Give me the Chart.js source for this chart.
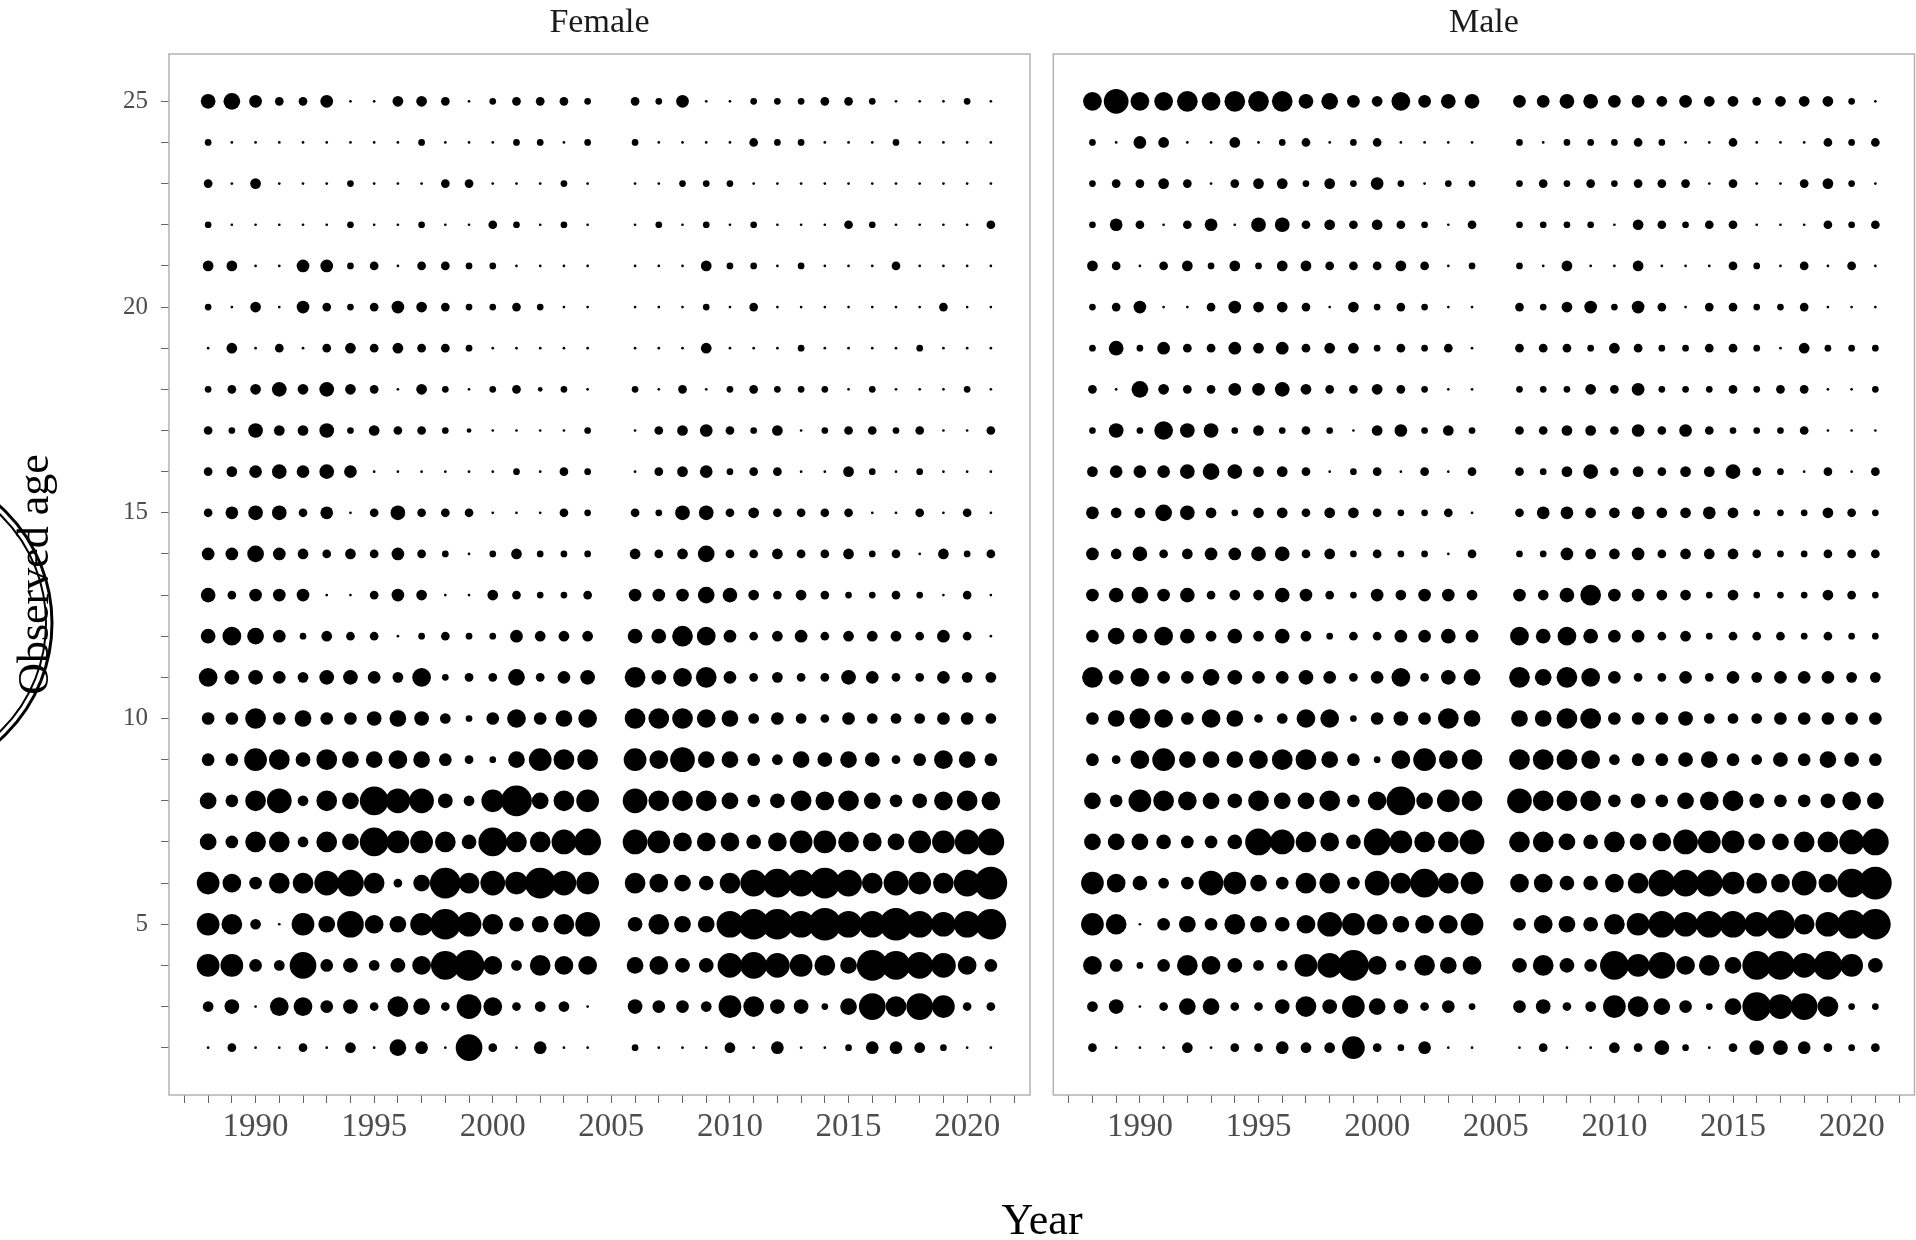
<!DOCTYPE html>
<html>
<head>
<meta charset="utf-8">
<script src="https://cdn.jsdelivr.net/npm/chart.js"></script>
<style>
  body { margin: 0; background: #fff; width: 1916px; height: 1240px; overflow: hidden; position: relative; font-family: "Liberation Serif", serif; }
  .wrap { position: absolute; top: 0; height: 1240px; }
  #fwrap { left: 0; width: 1042px; }
  #mwrap { left: 1042px; width: 874px; }
  #xtitle { position: absolute; left: 0; width: 2084px; top: 1192px; text-align: center; font-size: 44px; line-height: 56px; color: #000; }
</style>
</head>
<body>
<div class="wrap" id="fwrap"><canvas id="female"></canvas></div>
<div class="wrap" id="mwrap"><canvas id="male"></canvas></div>
<div id="xtitle">Year</div>

<script>
// years sampled (no 2005 survey) and ages, top row = age 25
const years = [1988,1989,1990,1991,1992,1993,1994,1995,1996,1997,1998,1999,2000,2001,2002,2003,2004,
               2006,2007,2008,2009,2010,2011,2012,2013,2014,2015,2016,2017,2018,2019,2020,2021];
const ages = [25,24,23,22,21,20,19,18,17,16,15,14,13,12,11,10,9,8,7,6,5,4,3,2];
const xLabelYears = [1990,1995,2000,2005,2010,2015,2020];
const yLabelAges = [5,10,15,20,25];

// Female, relative numbers at age (bubble area)
const f25 = [49,64,36,16,16,36,1,1,25,25,16,1,9,16,16,16,9, 16,9,36,1,1,9,9,9,16,16,9,1,1,1,9,1];
const f24 = [9,1,1,1,1,1,1,1,1,9,1,1,1,9,9,1,9, 9,1,1,1,1,16,9,9,1,1,1,9,1,1,1,1];
const f23 = [16,1,25,1,1,1,9,1,1,1,16,16,1,1,1,9,1, 1,1,9,9,9,1,1,1,1,1,1,1,1,1,1,1];
const f22 = [9,1,1,1,1,1,9,1,1,9,1,1,16,9,1,9,1, 1,9,1,9,1,9,1,1,1,16,9,1,1,1,1,16];
const f21 = [25,25,1,1,36,36,9,16,1,16,16,9,9,1,1,1,1, 1,1,1,25,9,9,1,9,1,1,1,16,1,1,1,1];
const f20 = [9,1,25,1,36,16,9,16,36,25,16,9,9,16,9,1,1, 1,1,1,9,1,16,1,1,1,1,1,1,1,16,1,1];
const f19 = [1,25,1,16,1,16,25,16,25,16,16,9,1,1,1,1,1, 1,1,1,25,1,1,1,9,1,1,1,1,9,1,1,1];
const f18 = [9,16,25,49,25,49,25,16,1,25,9,1,9,16,4,9,1, 9,1,16,1,9,16,9,9,9,1,9,1,1,1,9,1];
const f17 = [16,9,49,25,25,49,9,25,16,16,9,4,1,1,1,1,9, 1,16,25,36,16,9,25,1,9,16,16,9,16,1,1,16];
const f16 = [16,25,36,49,36,49,36,1,1,1,1,1,1,9,1,16,9, 1,16,25,36,9,16,16,1,1,25,9,1,9,1,1,1];
const f15 = [16,36,49,49,16,36,1,16,49,16,16,16,1,1,1,16,9, 16,9,49,49,16,25,16,16,16,16,1,1,16,1,16,1];
const f14 = [36,36,64,36,25,16,25,16,36,16,9,1,9,25,9,9,9, 25,16,25,64,16,16,25,16,16,25,9,16,1,25,9,16];
const f13 = [49,16,36,36,36,1,1,16,36,25,1,1,25,16,9,9,16, 36,36,36,64,49,25,16,25,16,9,9,16,9,1,16,1];
const f12 = [49,81,64,36,9,25,16,16,1,9,16,9,9,36,25,25,25, 49,49,100,81,36,16,25,36,16,25,25,25,16,36,16,1];
const f11 = [81,49,49,36,25,49,49,36,25,81,9,16,16,64,16,36,49, 100,49,81,100,36,16,25,16,16,49,36,16,16,36,25,25];
const f10 = [36,36,100,36,64,36,36,49,64,49,25,9,36,81,36,64,81, 100,100,100,81,64,25,36,25,16,36,25,25,25,36,36,25];
const f9  = [36,36,121,100,49,100,64,64,81,64,36,16,9,64,121,100,100, 121,81,144,64,64,36,25,64,49,64,49,16,36,81,64,36];
const f8  = [64,36,100,144,25,100,64,196,144,144,49,25,121,225,64,100,121, 144,100,100,100,64,36,49,100,81,100,64,36,49,81,100,81];
const f7  = [64,36,100,100,25,100,64,196,121,121,100,49,196,100,100,144,169, 144,121,81,81,81,49,81,121,121,100,81,64,121,121,144,169];
const f6  = [121,81,36,100,100,144,169,100,16,64,225,100,144,121,225,144,121, 100,81,64,49,100,169,196,169,225,169,100,144,121,100,169,256];
const f5  = [121,100,25,1,121,64,169,81,64,121,225,144,100,49,64,100,144, 49,100,64,64,169,225,225,169,256,169,169,256,169,144,169,225];
const f4  = [121,121,36,25,169,36,49,25,49,81,196,225,81,25,100,81,81, 64,81,49,49,144,169,144,121,100,64,225,196,169,144,81,36];
const f3  = [25,49,1,81,81,36,49,16,100,64,16,144,81,16,25,25,1, 49,36,36,25,121,100,49,49,9,64,169,100,169,121,16,16];
const f2  = [1,16,1,1,16,1,25,1,64,36,1,169,16,1,36,1,1, 9,1,1,1,25,1,36,1,1,9,36,36,25,9,1,1];

// Male
const m25 = [81,144,81,81,100,81,100,100,100,49,64,36,25,81,36,49,49, 36,36,49,49,36,36,25,36,25,25,16,25,25,25,9,1];
const m24 = [9,1,36,25,1,1,25,1,9,16,1,9,16,1,1,1,1, 9,1,9,9,9,16,9,1,1,16,1,1,1,16,9,16];
const m23 = [9,16,16,25,16,1,16,25,25,9,25,9,36,9,1,9,9, 9,16,9,16,9,16,16,16,1,16,1,1,16,25,9,1];
const m22 = [9,36,16,1,16,36,1,49,49,16,25,16,25,16,9,1,16, 9,9,9,9,1,25,16,9,16,16,1,1,1,16,9,16];
const m21 = [25,16,1,16,25,9,25,9,25,25,16,16,16,25,16,1,9, 9,1,25,1,1,25,1,1,1,16,9,1,16,1,16,1];
const m20 = [9,16,36,1,1,16,36,25,25,16,1,25,9,16,9,1,1, 16,9,25,36,9,36,16,1,16,16,9,9,16,1,1,1];
const m19 = [9,49,9,36,16,16,36,25,36,16,25,25,9,16,9,16,1, 16,16,16,9,25,16,9,9,16,16,9,1,25,9,9,9];
const m18 = [16,1,64,25,16,16,36,36,49,25,16,16,25,16,9,1,1, 9,9,9,25,16,36,9,9,9,16,9,16,16,1,1,9];
const m17 = [9,49,9,81,49,49,9,25,9,16,9,1,25,36,9,25,9, 16,16,25,25,16,36,16,36,16,9,9,9,16,1,1,1];
const m16 = [25,36,36,36,49,64,49,25,25,16,1,9,16,1,16,1,16, 16,9,25,49,16,25,16,25,25,49,16,9,1,16,1,16];
const m15 = [36,25,25,64,49,25,9,25,25,16,25,25,16,9,9,16,1, 16,36,36,25,25,36,25,25,36,25,9,9,9,25,16,9];
const m14 = [36,25,49,16,25,36,36,49,49,16,25,9,16,9,9,1,16, 9,9,36,25,25,36,16,25,25,25,16,9,9,16,16,16];
const m13 = [36,49,64,36,49,16,25,25,49,36,16,9,36,25,36,36,25, 36,25,49,100,36,36,25,25,9,25,9,9,9,25,16,9];
const m12 = [36,64,49,81,49,25,49,25,49,25,9,16,16,36,36,49,36, 81,49,81,49,36,36,16,25,9,16,16,16,9,16,9,9];
const m11 = [100,49,81,36,36,64,49,36,36,49,36,16,36,81,16,49,64, 100,64,100,81,36,16,16,36,16,36,25,36,36,36,25,25];
const m10 = [36,64,100,81,36,81,64,16,25,81,81,9,36,49,36,100,64, 64,64,100,100,36,36,36,49,25,25,25,36,36,36,36,36];
const m9  = [36,16,81,121,64,64,64,81,100,100,64,36,9,81,121,81,100, 100,100,100,81,25,36,36,49,64,36,25,49,36,64,49,36];
const m8  = [64,36,121,100,81,64,49,100,64,64,100,36,81,196,64,121,100, 144,100,100,100,36,49,36,64,81,100,49,36,36,49,81,64];
const m7  = [64,64,64,49,36,36,49,169,144,100,81,49,169,121,100,100,144, 100,100,64,49,100,64,81,144,121,121,64,64,100,100,144,169];
const m6  = [121,81,49,25,36,144,121,64,36,100,100,36,144,100,196,100,121, 81,81,49,49,81,100,169,169,169,121,100,81,144,81,196,256];
const m5  = [121,100,1,36,64,36,100,64,49,81,144,121,100,64,81,81,121, 36,81,64,49,100,121,169,144,169,169,144,196,100,144,196,225];
const m4  = [81,36,9,36,100,81,49,25,25,121,144,225,81,25,100,64,81, 49,100,49,36,196,121,169,81,100,64,196,196,144,196,121,49];
const m3  = [25,49,1,16,64,64,16,16,49,100,49,121,64,49,16,36,9, 36,49,16,25,121,100,64,36,9,64,196,144,169,100,9,9];
const m2  = [16,1,1,1,25,1,16,16,36,25,25,121,16,9,36,1,1, 1,16,1,1,25,16,49,9,1,16,49,49,36,16,9,16];

const femaleRows = [f25,f24,f23,f22,f21,f20,f19,f18,f17,f16,f15,f14,f13,f12,f11,f10,f9,f8,f7,f6,f5,f4,f3,f2];
const maleRows = [m25,m24,m23,m22,m21,m20,m19,m18,m17,m16,m15,m14,m13,m12,m11,m10,m9,m8,m7,m6,m5,m4,m3,m2];

// bubble area proportional to value
const radiusOf = v => Math.sqrt(v) + 0.35;

const tickYears = [];
for (let y = 1987; y <= 2022; y++) tickYears.push(y);
const tickAges = ages.slice();

const serif = '"Liberation Serif", "Times New Roman", serif';

// panel border + facet label
const panelDeco = {
  id: 'panelDeco',
  afterDraw(chart, args, opts) {
    const { ctx, chartArea: a } = chart;
    ctx.save();
    ctx.strokeStyle = '#b3b3b3';
    ctx.lineWidth = 1.5;
    ctx.strokeRect(a.left, a.top, a.right - a.left, a.bottom - a.top);
    ctx.fillStyle = '#1a1a1a';
    ctx.font = '34px ' + serif;
    ctx.textAlign = 'center';
    ctx.textBaseline = 'middle';
    ctx.fillText(opts.text, (a.left + a.right) / 2, 23);
    if (opts.ring) {
      ctx.strokeStyle = '#000';
      ctx.lineWidth = 3;
      ctx.beginPath(); ctx.arc(-105, 623, 157, -Math.PI / 2, Math.PI / 2); ctx.stroke();
      ctx.lineWidth = 2;
      ctx.beginPath(); ctx.arc(-105, 623, 151, -Math.PI / 2, Math.PI / 2); ctx.stroke();
    }
    ctx.restore();
  }
};

function makePanel(id, label, rows, isLeft) {
  const pts = [];
  rows.forEach((row, i) => {
    row.forEach((v, j) => pts.push({ x: years[j], y: ages[i], r: radiusOf(v) }));
  });

  return new Chart(document.getElementById(id), {
    type: 'bubble',
    data: {
      datasets: [{ data: pts, backgroundColor: '#000', borderWidth: 0, hoverRadius: 0, clip: false }]
    },
    options: {
      responsive: true,
      maintainAspectRatio: false,
      animation: false,
      events: [],
      layout: {
        autoPadding: false,
        padding: isLeft ? { left: 0, top: 54, right: 12, bottom: 0 } : { left: 11.3, top: 54, right: 1.5, bottom: 0 }
      },
      plugins: {
        legend: { display: false },
        tooltip: { enabled: false },
        panelDeco: { text: label, ring: isLeft }
      },
      scales: {
        x: {
          type: 'linear',
          min: 1986.35,
          max: 2022.65,
          afterBuildTicks: s => { s.ticks = tickYears.map(v => ({ value: v })); },
          afterFit: s => { s.height = 145; s.paddingLeft = 0; s.paddingRight = 0; },
          grid: { drawOnChartArea: false, drawTicks: true, tickLength: 8, color: '#666' },
          border: { display: false },
          ticks: {
            autoSkip: false,
            maxRotation: 0,
            padding: 5,
            color: '#4d4d4d',
            font: { family: serif, size: 33 },
            callback: v => xLabelYears.includes(v) ? String(v) : ''
          }
        },
        y: {
          type: 'linear',
          display: isLeft,
          min: 0.85,
          max: 26.15,
          afterBuildTicks: s => { s.ticks = tickAges.map(v => ({ value: v })); },
          afterFit: s => { s.width = isLeft ? 169 : 0; s.paddingTop = 0; s.paddingBottom = 0; },
          grid: { drawOnChartArea: false, drawTicks: true, tickLength: 8, color: '#666' },
          border: { display: false },
          title: { display: true, text: 'Observed age', color: '#000', font: { family: serif, size: 44 }, padding: { top: 10, bottom: 0 } },
          ticks: {
            autoSkip: false,
            padding: 13,
            color: '#4d4d4d',
            font: { family: serif, size: 25 },
            callback: v => yLabelAges.includes(v) ? String(v) : ''
          }
        }
      }
    },
    plugins: [panelDeco]
  });
}

makePanel('female', 'Female', femaleRows, true);
makePanel('male', 'Male', maleRows, false);
</script>
</body>
</html>
